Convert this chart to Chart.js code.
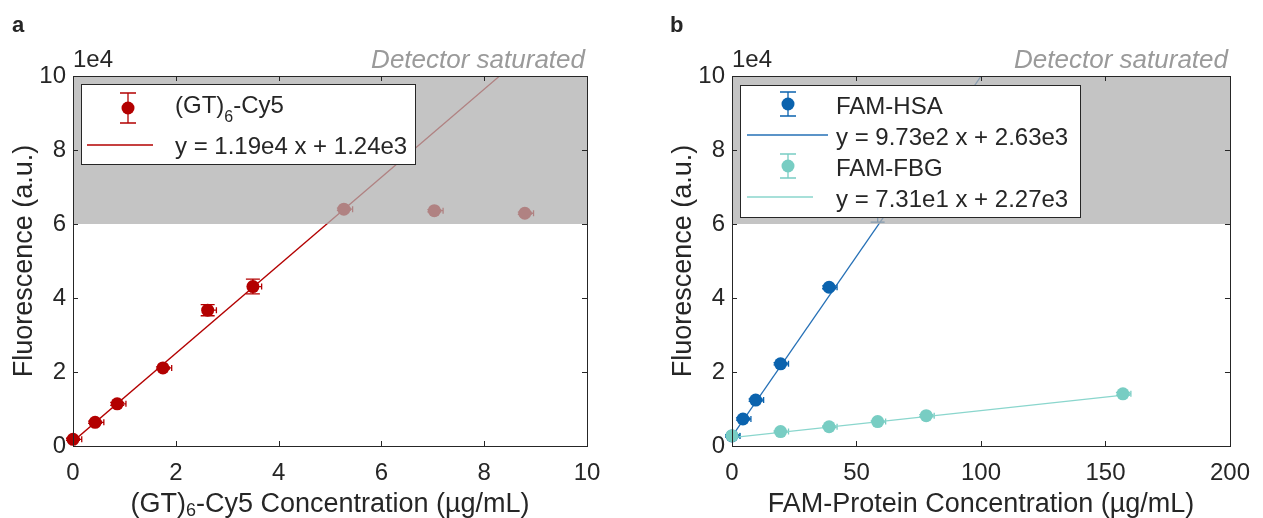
<!DOCTYPE html>
<html>
<head>
<meta charset="utf-8">
<title>Fluorescence calibration</title>
<script src="https://cdn.jsdelivr.net/npm/chart.js@4.4.1/dist/chart.umd.min.js"></script>
<style>
  html, body { margin: 0; padding: 0; background: #fff; }
  #wrap { position: relative; width: 1263px; height: 518px; overflow: hidden; }
  #chart-a { position: absolute; left: 0; top: 0; }
  #chart-b { position: absolute; left: 640px; top: 0; }
</style>
</head>
<body>
<div id="wrap">
  <canvas id="chart-a" width="640" height="518"></canvas>
  <canvas id="chart-b" width="623" height="518"></canvas>
</div>
<script>
const FONT = "'Liberation Sans', Arial, sans-serif";
const INK = "#262626";

// ---- panel a : (GT)6-Cy5 ----
const cy5Conc     = [0, 0.43, 0.86, 1.75, 2.62, 3.5, 5.27, 7.03, 8.79];
const cy5Fluor    = [1800, 6400, 11400, 21100, 36700, 43100, 64000, 63600, 62900];
const cy5FluorErr = [300, 300, 400, 300, 1500, 2000, 300, 300, 300];
const cy5ConcErr  = [0.17, 0.17, 0.17, 0.17, 0.17, 0.17, 0.17, 0.17, 0.17];
const cy5Slope = 1.19e4;
const cy5Intercept = 1.24e3;

// ---- panel b : FAM-HSA / FAM-FBG ----
const hsaConc     = [0, 4.4, 9.5, 19.5, 39, 58.5];
const hsaFluor    = [2700, 7300, 12400, 22200, 42900, 64500];
const hsaFluorErr = [300, 300, 300, 300, 400, 4000];
const hsaConcErr  = [3.2, 3.2, 3.2, 3.2, 3.2, 3.2];
const hsaSlope = 9.73e2;
const hsaIntercept = 2.63e3;

const fbgConc     = [0, 19.5, 39, 58.5, 78, 157];
const fbgFluor    = [2800, 3900, 5200, 6600, 8200, 14100];
const fbgFluorErr = [200, 200, 200, 200, 300, 400];
const fbgConcErr  = [3.2, 3.2, 3.2, 3.2, 3.2, 3.2];
const fbgSlope = 7.31e1;
const fbgIntercept = 2.27e3;

// axes
const xTicksA = [0, 2, 4, 6, 8, 10];
const xTicksB = [0, 50, 100, 150, 200];
const yTicks  = [0, 20000, 40000, 60000, 80000, 100000];
const yScaleFactor = 1e4;
const saturationLevel = 60000;

const RED = "#b30000";
const BLUE = "#0b63ae";
const BLUE_LINE = "#2570b6";
const TEAL = "#78cdc3";
const TEAL_LINE = "#8ad6cd";

function toPoints(xs, ys) {
  return xs.map((x, i) => ({ x: x, y: ys[i] }));
}

function fitLine(m, b, x0, x1) {
  return [{ x: x0, y: m * x0 + b }, { x: x1, y: m * x1 + b }];
}

function markerSet(label, xs, ys, xErr, yErr, color) {
  return {
    label: label,
    data: toPoints(xs, ys),
    xErr: xErr,
    yErr: yErr,
    pointRadius: 6.5,
    pointBackgroundColor: color,
    pointBorderWidth: 0,
    backgroundColor: color,
    borderColor: color,
    showLine: false,
    clip: false
  };
}

function lineSet(label, pts, color) {
  return {
    label: label,
    data: pts,
    showLine: true,
    pointRadius: 0,
    borderColor: color,
    borderWidth: 1.3,
    fill: false
  };
}

// draws vertical and horizontal error bars under the markers
const errorBars = {
  id: "errorBars",
  beforeDatasetsDraw(chart) {
    const ctx = chart.ctx;
    const xs = chart.scales.x, ys = chart.scales.y;
    chart.data.datasets.forEach(ds => {
      if (!ds.yErr) return;
      ctx.save();
      ctx.strokeStyle = ds.borderColor;
      ctx.lineWidth = 1.3;
      ds.data.forEach((p, j) => {
        const px = xs.getPixelForValue(p.x);
        const py = ys.getPixelForValue(p.y);
        const top = ys.getPixelForValue(p.y + ds.yErr[j]);
        const bot = ys.getPixelForValue(p.y - ds.yErr[j]);
        const right = xs.getPixelForValue(p.x + ds.xErr[j]);
        ctx.beginPath();
        ctx.moveTo(px, top); ctx.lineTo(px, bot);
        ctx.moveTo(px - 7, top); ctx.lineTo(px + 7, top);
        ctx.moveTo(px - 7, bot); ctx.lineTo(px + 7, bot);
        ctx.moveTo(px, py); ctx.lineTo(right, py);
        ctx.moveTo(right, py - 3); ctx.lineTo(right, py + 3);
        ctx.stroke();
      });
      ctx.restore();
    });
  }
};

function drawRich(ctx, parts, x, y, size, align, subDrop) {
  const sub = Math.round(size * 0.66);
  const widths = parts.map(p => {
    ctx.font = (p.sub ? sub : size) + "px " + FONT;
    return ctx.measureText(p.t).width;
  });
  const total = widths.reduce((a, b) => a + b, 0);
  let cx = align === "center" ? x - total / 2 : x;
  ctx.textAlign = "left";
  ctx.textBaseline = "alphabetic";
  parts.forEach((p, i) => {
    ctx.font = (p.sub ? sub : size) + "px " + FONT;
    ctx.fillText(p.t, cx, p.sub ? y + subDrop : y);
    cx += widths[i];
  });
}

function drawMarkerIcon(ctx, x, y, top, bot, color) {
  ctx.save();
  ctx.strokeStyle = color;
  ctx.fillStyle = color;
  ctx.lineWidth = 1.3;
  ctx.beginPath();
  ctx.moveTo(x, top); ctx.lineTo(x, bot);
  ctx.moveTo(x - 8, top); ctx.lineTo(x + 8, top);
  ctx.moveTo(x - 8, bot); ctx.lineTo(x + 8, bot);
  ctx.stroke();
  ctx.beginPath();
  ctx.arc(x, y, 6.5, 0, Math.PI * 2);
  ctx.fill();
  ctx.restore();
}

// saturation band, frame, inward ticks, labels and legend
function decor(opts) {
  return {
    id: "decor",
    afterDatasetsDraw(chart) {
      const ctx = chart.ctx;
      const a = chart.chartArea;
      const ys = chart.scales.y, xs = chart.scales.x;
      ctx.save();
      const yTop = ys.getPixelForValue(ys.max);
      const ySat = ys.getPixelForValue(saturationLevel);
      ctx.fillStyle = "rgba(176,176,176,0.74)";
      ctx.fillRect(a.left, yTop, a.right - a.left, ySat - yTop);

      ctx.strokeStyle = INK;
      ctx.lineWidth = 1;
      ctx.beginPath();
      xs.ticks.forEach(t => {
        const px = Math.round(xs.getPixelForValue(t.value)) + 0.5;
        ctx.moveTo(px, a.bottom); ctx.lineTo(px, a.bottom - 5);
        ctx.moveTo(px, a.top); ctx.lineTo(px, a.top + 5);
      });
      ys.ticks.forEach(t => {
        const py = Math.round(ys.getPixelForValue(t.value)) + 0.5;
        ctx.moveTo(a.left, py); ctx.lineTo(a.left + 5, py);
        ctx.moveTo(a.right, py); ctx.lineTo(a.right - 5, py);
      });
      ctx.stroke();
      ctx.strokeRect(Math.round(a.left) + 0.5, Math.round(a.top) + 0.5,
                     Math.round(a.right - a.left), Math.round(a.bottom - a.top));
      ctx.restore();
    },
    afterDraw(chart) {
      const ctx = chart.ctx;
      const a = chart.chartArea;
      ctx.save();
      ctx.fillStyle = INK;

      // panel letter
      ctx.font = "bold 22px " + FONT;
      ctx.textAlign = "left";
      ctx.textBaseline = "alphabetic";
      ctx.fillText(opts.letter, opts.letterX, 32);

      // exponent
      ctx.font = "24px " + FONT;
      ctx.fillText("1e4", a.left, 67);

      // saturation note
      ctx.fillStyle = "#9a9a9a";
      ctx.font = "italic 26px " + FONT;
      ctx.textAlign = "right";
      ctx.fillText("Detector saturated", a.right - 2, 68);

      // axis titles
      ctx.fillStyle = INK;
      drawRich(ctx, opts.xTitle, (a.left + a.right) / 2, 512, 27, "center", 4);
      ctx.save();
      ctx.translate(a.left - 41, (a.top + a.bottom) / 2);
      ctx.rotate(-Math.PI / 2);
      ctx.font = "27px " + FONT;
      ctx.textAlign = "center";
      ctx.textBaseline = "alphabetic";
      ctx.fillText("Fluorescence (a.u.)", 0, 0);
      ctx.restore();

      // legend
      const lg = opts.legend;
      ctx.fillStyle = "#fff";
      ctx.fillRect(lg.x0, lg.y0, lg.x1 - lg.x0, lg.y1 - lg.y0);
      ctx.strokeStyle = INK;
      ctx.lineWidth = 1;
      ctx.strokeRect(lg.x0 + 0.5, lg.y0 + 0.5, lg.x1 - lg.x0, lg.y1 - lg.y0);
      lg.rows.forEach(r => {
        if (r.kind === "marker") {
          drawMarkerIcon(ctx, lg.iconX, r.y, r.y - r.bar, r.y + r.bar, r.color);
        } else {
          ctx.strokeStyle = r.color;
          ctx.lineWidth = 1.3;
          ctx.beginPath();
          ctx.moveTo(lg.lineX0, r.y);
          ctx.lineTo(r.lineX1, r.y);
          ctx.stroke();
        }
        ctx.fillStyle = INK;
        drawRich(ctx, r.text, lg.textX, r.base, 24, "left", 9);
      });
      ctx.restore();
    }
  };
}

function makeChart(canvasId, area, xMax, xTicks, datasets, opts) {
  const canvas = document.getElementById(canvasId);
  const tickFont = { family: FONT, size: 24 };
  return new Chart(canvas, {
    type: "scatter",
    data: { datasets: datasets },
    options: {
      responsive: false,
      animation: false,
      devicePixelRatio: 1,
      layout: { padding: { left: 0, top: area.top, right: canvas.width - area.right, bottom: 0 } },
      scales: {
        x: {
          type: "linear",
          min: 0,
          max: xMax,
          afterBuildTicks: s => { s.ticks = xTicks.map(v => ({ value: v })); },
          afterFit: s => { s.height = canvas.height - area.bottom; },
          grid: { display: false, drawTicks: false },
          border: { display: false },
          ticks: { font: tickFont, color: INK, padding: 13, autoSkip: false, maxRotation: 0 }
        },
        y: {
          type: "linear",
          min: 0,
          max: 100000,
          afterBuildTicks: s => { s.ticks = yTicks.map(v => ({ value: v })); },
          afterFit: s => { s.width = area.left; },
          grid: { display: false, drawTicks: false },
          border: { display: false },
          ticks: {
            font: tickFont, color: INK, padding: 7, autoSkip: false,
            callback: v => String(v / yScaleFactor)
          }
        }
      },
      plugins: { legend: { display: false }, tooltip: { enabled: false } }
    },
    plugins: [errorBars, decor(opts)]
  });
}

makeChart("chart-a", { left: 73, right: 587, top: 76, bottom: 446 }, 10, xTicksA, [
  markerSet("(GT)6-Cy5", cy5Conc, cy5Fluor, cy5ConcErr, cy5FluorErr, RED),
  lineSet("fit", fitLine(cy5Slope, cy5Intercept, 0, 10), RED)
], {
  letter: "a",
  letterX: 12,
  xTitle: [{ t: "(GT)" }, { t: "6", sub: true }, { t: "-Cy5 Concentration (µg/mL)" }],
  legend: {
    x0: 81, x1: 415, y0: 84, y1: 164,
    iconX: 128, lineX0: 87, textX: 175,
    rows: [
      { kind: "marker", y: 108, bar: 15, base: 113, color: RED,
        text: [{ t: "(GT)" }, { t: "6", sub: true }, { t: "-Cy5" }] },
      { kind: "line", y: 145, base: 154, lineX1: 153, color: RED,
        text: [{ t: "y = 1.19e4 x + 1.24e3" }] }
    ]
  }
});

makeChart("chart-b", { left: 92, right: 606, top: 76, bottom: 446 }, 200, xTicksB, [
  markerSet("FAM-FBG", fbgConc, fbgFluor, fbgConcErr, fbgFluorErr, TEAL),
  markerSet("FAM-HSA", hsaConc, hsaFluor, hsaConcErr, hsaFluorErr, BLUE),
  lineSet("FBG fit", fitLine(fbgSlope, fbgIntercept, 0, 160), TEAL_LINE),
  lineSet("HSA fit", fitLine(hsaSlope, hsaIntercept, 0, 200), BLUE_LINE)
], {
  letter: "b",
  letterX: 30,
  xTitle: [{ t: "FAM-Protein Concentration (µg/mL)" }],
  legend: {
    x0: 100, x1: 440, y0: 85, y1: 217,
    iconX: 148, lineX0: 107, textX: 196,
    rows: [
      { kind: "marker", y: 104, bar: 12, base: 114, color: BLUE, text: [{ t: "FAM-HSA" }] },
      { kind: "line", y: 135, base: 145, lineX1: 188, color: BLUE_LINE,
        text: [{ t: "y = 9.73e2 x + 2.63e3" }] },
      { kind: "marker", y: 166, bar: 12, base: 176, color: TEAL, text: [{ t: "FAM-FBG" }] },
      { kind: "line", y: 197, base: 207, lineX1: 173, color: TEAL_LINE,
        text: [{ t: "y = 7.31e1 x + 2.27e3" }] }
    ]
  }
});
</script>
</body>
</html>
